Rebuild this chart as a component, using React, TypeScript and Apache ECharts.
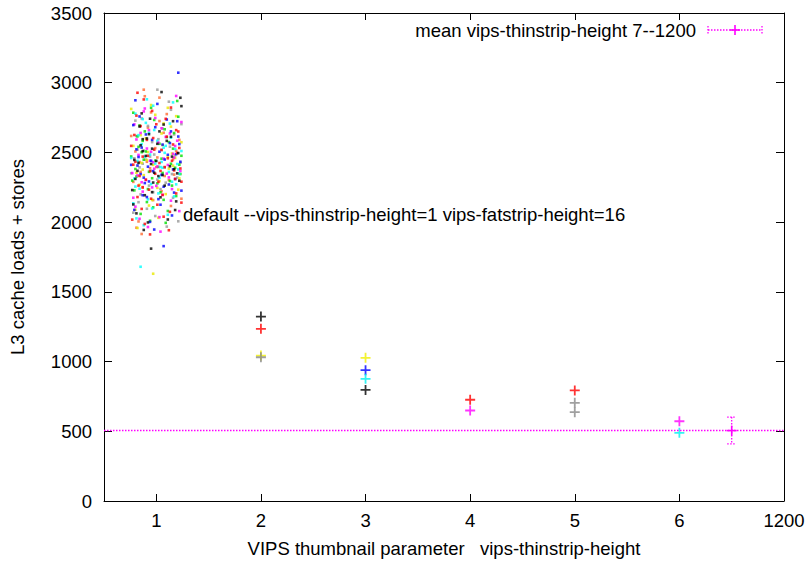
import React, { useEffect, useRef } from "react";
import * as echarts from "echarts";

// ---------- data ----------
const xTickValues = [1, 2, 3, 4, 5, 6, 7];
const xTickLabels = ["1", "2", "3", "4", "5", "6", "1200"];
const yMin = 0;
const yMax = 3500;
const yStep = 500;

// default run (x = 1): jittered individual measurements, flat [x, y, x, y, ...]
const clusterRed = [0.78,2412,1.21,2650,0.93,2233,1.05,2518,0.86,2095,1.17,2371,0.81,2764,1.02,2289,0.97,2603,1.24,2140,0.76,2547,1.11,2458,0.89,1987,1.14,2822,0.84,2331,1.00,2702,1.19,2206,0.92,2476,1.07,2039,0.79,2625,1.23,2385,0.95,2168,1.09,2741,0.83,2262,1.16,2557,0.88,2880,1.03,2424,0.77,2018,1.20,2496,0.99,2347,1.12,1942,0.85,2689,1.06,2195,0.91,2590,1.18,2310,0.80,2433,1.13,2074,0.96,2798,1.22,2532,0.87,2251,1.04,2367,0.82,2928,1.10,2613,0.94,1912,0.90,2305,1.15,2440,0.98,2520,0.82,2180,1.08,2395,1.19,2660,0.87,2470,1.01,2125,0.94,2365,1.24,2290];
const clusterGreen = [0.80,2381,1.16,2527,0.91,2144,1.08,2666,0.77,2298,1.22,2412,0.98,2733,0.85,2059,1.13,2295,1.03,2562,0.88,2448,1.19,2187,0.82,2615,1.06,2353,0.95,2820,1.24,2476,0.79,2228,1.11,2080,0.90,2507,1.01,2278,0.84,2694,1.17,2639,0.93,2361,1.09,1995,0.76,2471,1.21,2756,0.97,2106,1.14,2419,0.87,2583,1.04,2214,0.81,2327,1.20,2869,0.99,2441,1.07,2160,0.89,2651,1.15,2262,0.78,2785,1.02,2396,0.94,2010,1.23,2345,0.86,2502,1.12,2574,0.96,2315,1.05,2455,0.83,2540,1.18,2390,0.92,2237,1.10,2610];
const clusterBlue = [0.83,2467,1.18,2309,0.96,2590,1.04,2125,0.78,2696,1.23,2433,0.89,2280,1.10,2736,0.92,2398,1.15,2048,0.81,2522,1.01,2848,0.87,2193,1.21,2614,0.97,2365,1.07,2254,0.76,2411,1.13,2567,0.94,2002,1.19,2488,0.84,2758,1.05,2339,0.90,2629,1.24,2226,0.79,2088,1.08,2449,0.99,2681,1.16,2378,0.86,2535,1.02,2165,0.93,2292,1.20,2724,0.82,2406,1.11,2483,0.98,1947,1.14,2651,0.88,2319,1.06,2556,1.21,3072,1.07,1828,0.80,2874,1.17,2212,0.95,2440,1.12,2270,0.85,2345,1.03,2505,0.91,2180,1.22,2560];
const clusterMagenta = [0.77,2352,1.20,2584,0.94,2441,1.06,2196,0.85,2640,1.12,2321,0.99,2747,0.80,2111,1.17,2463,0.91,2528,1.03,2036,0.88,2794,1.23,2367,0.96,2249,1.09,2611,0.83,2482,1.14,2154,0.79,2701,1.01,2399,0.92,1965,1.18,2546,0.86,2286,1.05,2673,0.97,2430,1.22,2079,0.81,2593,1.10,2348,0.89,2815,1.15,2237,0.95,2505,0.78,2175,1.07,2456,1.24,2718,0.90,2302,1.02,2570,0.84,2024,1.13,2636,0.98,2383,1.19,2905,0.87,2219,1.04,1932,0.93,2660,1.11,2410,0.82,2335,1.00,2260,1.16,2490];
const clusterCyan = [0.82,2439,1.14,2606,0.95,2273,1.08,2497,0.78,2135,1.21,2378,0.90,2712,1.03,2318,0.86,2559,1.17,2185,0.99,2420,0.80,2778,1.11,2053,0.93,2641,1.24,2510,0.84,2240,1.06,2390,0.97,2835,1.19,2271,0.88,1978,1.01,2583,0.76,2460,1.13,2707,0.92,2164,1.05,2432,0.83,2624,1.22,2346,0.96,2098,1.09,2547,0.79,2313,1.16,2859,0.94,2485,1.02,2206,0.87,2739,1.20,2417,0.85,1680,1.12,2360,0.98,2661,0.81,2027,1.07,2534,0.91,2881,1.15,2290,1.04,2395,0.89,2470,1.18,2525,0.80,2255];
const clusterBlack = [0.79,2446,1.22,2297,0.93,2631,1.04,2178,0.87,2509,1.16,2724,0.98,2354,0.81,2063,1.10,2583,0.95,2417,1.19,2149,0.84,2686,1.06,2338,0.90,2475,1.24,2832,0.77,2230,1.01,2562,0.92,1998,1.13,2401,0.86,2780,1.08,2262,0.96,2527,1.18,2087,0.82,2368,1.03,2651,0.89,2193,1.21,2495,0.95,1810,1.14,2612,0.80,2310,1.00,2439,0.94,2742,1.11,2019,0.85,2551,1.23,2892,0.97,2284,1.07,2700,0.78,2127,1.17,2380,0.91,2600,1.05,2933,0.88,1944,1.02,2330,0.83,2425,1.15,2470,0.96,2215,1.20,2350,0.87,2595];
const clusterGray = [0.84,2393,1.13,2541,0.97,2215,1.06,2671,0.79,2458,1.20,2320,0.91,2096,1.02,2595,0.86,2744,1.16,2175,0.94,2470,1.09,2283,0.81,2618,1.23,2426,0.99,2044,0.88,2513,1.14,2806,0.76,2351,1.04,2237,0.92,2690,1.18,2480,0.83,2143,1.08,2392,0.96,2574,1.21,2006,0.80,2728,1.01,2305,0.90,2448,1.12,2864,0.85,2199,1.01,2950,1.17,2629,0.95,2369,0.78,2068,1.05,2517,0.93,2262,1.24,2703,0.87,2419,1.10,1968,0.98,2485,1.15,2345,0.82,2520];
const clusterYellow = [0.81,2354,1.15,2492,0.96,2159,1.07,2708,0.86,2425,1.21,2233,0.90,2601,1.02,2031,0.78,2547,1.12,2384,0.99,2770,0.84,2268,1.18,2460,0.93,2119,1.05,2636,0.88,2337,1.24,2573,0.76,2812,1.09,2201,0.97,2411,0.82,1958,1.14,2685,0.92,2503,1.03,2294,0.97,1630,1.19,2760,0.87,2377,1.06,2552,0.80,2089,1.11,2468,0.95,2840,1.22,2314,0.85,2624,1.01,2246,1.11,2820,0.91,2445,1.16,2405];
const clusterOrange = [0.80,2507,1.17,2341,0.92,2678,1.05,2222,0.84,2431,1.22,2590,0.97,2158,1.10,2775,0.78,2289,1.01,2464,0.89,2903,1.14,2116,0.94,2386,1.07,2641,0.83,2005,1.19,2512,0.87,2247,1.03,2725,0.91,2433,1.24,2168,0.76,2618,1.12,2302,0.99,2531,0.86,1915,0.88,2950,1.03,2893,1.16,2450,0.81,1960,0.95,2787,1.08,2331,1.00,2395,0.85,2360];

// per-setting results (x = 2..6)
const plusBlack = [[2, 1323], [3, 797]];
const plusRed = [[2, 1235], [4, 726], [5, 793]];
const plusYellow = [[2, 1043], [3, 1027]];
const plusGray = [[2, 1031], [5, 704], [5, 637]];
const plusBlue = [[3, 938]];
const plusCyan = [[3, 876], [6, 489]];
const plusMagenta = [[4, 649], [6, 572]];

// mean over vips-thinstrip-height 7..1200
const meanX = [6.5];
const meanY = [505];
const meanLow = [410];
const meanHigh = [602];

const legendText = "mean vips-thinstrip-height 7--1200";
const annotationText = "default --vips-thinstrip-height=1 vips-fatstrip-height=16";
const xName = "VIPS thumbnail parameter   vips-thinstrip-height";
const yName = "L3 cache loads + stores";

// ---------- styles ----------
const FONT = '"Liberation Sans", Arial, Helvetica, sans-serif';
const FS = 18.5;
const MAG = "#ff00ff";
const PLUS = "path://M4.1,0H5.9V4.1H10V5.9H5.9V10H4.1V5.9H0V4.1H4.1Z";

const pairs = (flat: number[]) => {
  const out: number[][] = [];
  for (let i = 0; i + 1 < flat.length; i += 2) out.push([flat[i], flat[i + 1]]);
  return out;
};

export default function App() {
  const ref = useRef<HTMLDivElement>(null);

  useEffect(() => {
    if (!ref.current) return;
    const chart = echarts.init(ref.current, undefined, { renderer: "svg" });

    const clusters: [number[], string][] = [
      [clusterOrange, "#ff6a30"],
      [clusterGray, "#999999"],
      [clusterYellow, "#e8e800"],
      [clusterGreen, "#00e000"],
      [clusterCyan, "#00ffff"],
      [clusterMagenta, "#ff00ff"],
      [clusterBlue, "#0000ff"],
      [clusterRed, "#ff0000"],
      [clusterBlack, "#000000"],
    ];

    const pluses: [number[][], string][] = [
      [plusYellow, "#f0f000"],
      [plusGray, "#888888"],
      [plusRed, "#ff0000"],
      [plusBlue, "#0000ff"],
      [plusCyan, "#00f0f0"],
      [plusMagenta, "#ff00ff"],
      [plusBlack, "#000000"],
    ];

    const dashed = { stroke: MAG, lineWidth: 1.3, lineDash: [1.5, 1.5] };
    const solid = { stroke: MAG, lineWidth: 1.6 };

    const axisLine = { show: true, onZero: false, lineStyle: { color: "#000", width: 1 } };
    const txt = { fontSize: FS, fontFamily: FONT, fill: "#000" };

    const option: any = {
      animation: false,
      backgroundColor: "#ffffff",
      grid: { left: 104, right: 25, top: 13, bottom: 61, containLabel: false },
      xAxis: [
        {
          type: "value",
          position: "bottom",
          min: 0.5,
          max: 7,
          axisLine,
          splitLine: { show: false },
          axisTick: {
            show: true,
            inside: true,
            length: 7,
            customValues: xTickValues.slice(0, 6),
            lineStyle: { color: "#000" },
          },
          axisLabel: {
            show: true,
            customValues: xTickValues,
            formatter: (v: number) => {
              const i = xTickValues.indexOf(Math.round(v));
              return i >= 0 ? xTickLabels[i] : "";
            },
            fontSize: FS,
            fontFamily: FONT,
            color: "#000",
            margin: 10,
          },
        },
        {
          type: "value",
          position: "top",
          min: 0.5,
          max: 7,
          axisLine,
          splitLine: { show: false },
          axisTick: {
            show: true,
            inside: true,
            length: 7,
            customValues: xTickValues.slice(0, 6),
            lineStyle: { color: "#000" },
          },
          axisLabel: { show: false },
        },
      ],
      yAxis: [
        {
          type: "value",
          position: "left",
          min: yMin,
          max: yMax,
          interval: yStep,
          axisLine,
          splitLine: { show: false },
          axisTick: { show: true, inside: true, length: 8, lineStyle: { color: "#000" } },
          axisLabel: {
            fontSize: FS,
            fontFamily: FONT,
            color: "#000",
            margin: 12,
            formatter: (v: number) => String(v),
          },
        },
        {
          type: "value",
          position: "right",
          min: yMin,
          max: yMax,
          interval: yStep,
          axisLine,
          splitLine: { show: false },
          axisTick: { show: true, inside: true, length: 8, lineStyle: { color: "#000" } },
          axisLabel: { show: false },
        },
      ],
      series: [
        ...clusters.map(([flat, color]) => ({
          type: "scatter",
          xAxisIndex: 0,
          yAxisIndex: 0,
          symbol: "rect",
          symbolSize: 2.6,
          itemStyle: { color },
          data: pairs(flat),
          silent: true,
        })),
        ...pluses.map(([data, color]) => ({
          type: "scatter",
          xAxisIndex: 0,
          yAxisIndex: 0,
          symbol: PLUS,
          symbolSize: 10,
          itemStyle: { color },
          data,
          silent: true,
        })),
        {
          type: "custom",
          xAxisIndex: 0,
          yAxisIndex: 0,
          silent: true,
          encode: { x: 0, y: 1 },
          data: meanX.map((x, i) => [x, meanY[i], meanLow[i], meanHigh[i]]),
          renderItem: (_params: any, api: any) => {
            const c = api.coord([api.value(0), api.value(1)]);
            const lo = api.coord([api.value(0), api.value(2)]);
            const hi = api.coord([api.value(0), api.value(3)]);
            return {
              type: "group",
              children: [
                { type: "line", shape: { x1: c[0], y1: hi[1], x2: c[0], y2: lo[1] }, style: dashed },
                { type: "line", shape: { x1: c[0] - 4.5, y1: hi[1], x2: c[0] + 4.5, y2: hi[1] }, style: dashed },
                { type: "line", shape: { x1: c[0] - 4.5, y1: lo[1], x2: c[0] + 4.5, y2: lo[1] }, style: dashed },
                { type: "line", shape: { x1: c[0] - 5, y1: c[1], x2: c[0] + 5, y2: c[1] }, style: solid },
                { type: "line", shape: { x1: c[0], y1: c[1] - 5, x2: c[0], y2: c[1] + 5 }, style: solid },
              ],
            };
          },
          markLine: {
            silent: true,
            symbol: "none",
            label: { show: false },
            lineStyle: { color: MAG, width: 1.3, type: [1.5, 1.5] },
            data: [{ yAxis: meanY[0] }],
          },
        },
      ],
      graphic: [
        {
          type: "text",
          x: 183,
          y: 214,
          style: { ...txt, text: annotationText, align: "left", verticalAlign: "middle" },
        },
        {
          type: "text",
          x: 696,
          y: 30,
          style: { ...txt, text: legendText, align: "right", verticalAlign: "middle" },
        },
        { type: "line", shape: { x1: 708, y1: 30, x2: 762, y2: 30 }, style: dashed },
        { type: "line", shape: { x1: 708, y1: 26, x2: 708, y2: 34 }, style: dashed },
        { type: "line", shape: { x1: 762, y1: 26, x2: 762, y2: 34 }, style: dashed },
        { type: "line", shape: { x1: 730, y1: 30, x2: 740, y2: 30 }, style: solid },
        { type: "line", shape: { x1: 735, y1: 25, x2: 735, y2: 35 }, style: solid },
        {
          type: "text",
          x: 444,
          y: 548,
          style: { ...txt, text: xName, align: "center", verticalAlign: "middle" },
        },
        {
          type: "text",
          x: 17,
          y: 257,
          rotation: Math.PI / 2,
          style: { ...txt, text: yName, align: "center", verticalAlign: "middle" },
        },
      ],
    };

    chart.setOption(option);
    return () => chart.dispose();
  }, []);

  return (
    <div
      ref={ref}
      style={{ position: "absolute", left: 0, top: 0, width: 809, height: 562, background: "#fff" }}
    />
  );
}
